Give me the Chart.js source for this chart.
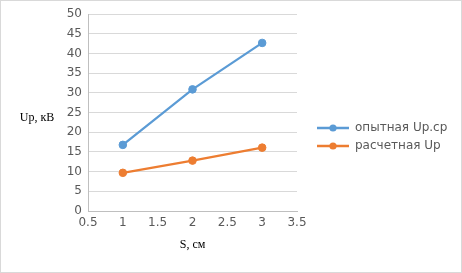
<!DOCTYPE html>
<html>
<head>
<meta charset="utf-8">
<script src="https://cdn.jsdelivr.net/npm/chart.js@4.4.1/dist/chart.umd.min.js"></script>
<style>
  html, body { margin: 0; padding: 0; background: #fff; }
  #wrap { width: 462px; height: 273px; box-sizing: border-box; border: 1px solid #d9d9d9; }
  #c { display: block; }
</style>
</head>
<body>
<div id="wrap"><canvas id="c" width="460" height="271"></canvas></div>
<script>
const sValues = [1, 2, 3];
const upMeasured = [16.8, 30.9, 42.7];
const upCalculated = [9.7, 12.8, 16.1];
const seriesNames = ["опытная Up.ср", "расчетная Up"];
const seriesColors = ["#5b9bd5", "#ed7d31"];
const xTitle = "S, см";
const yTitle = "Up, кВ";

const toPoints = ys => sValues.map((x, i) => ({ x: x, y: ys[i] }));

// legend marker: short line with a dot in the middle
const legendIcon = color => {
  const cv = document.createElement("canvas");
  cv.width = 32; cv.height = 10;
  const g = cv.getContext("2d");
  g.strokeStyle = color; g.lineWidth = 2.5;
  g.beginPath(); g.moveTo(0, 5); g.lineTo(32, 5); g.stroke();
  g.fillStyle = color;
  g.beginPath(); g.arc(16, 5, 3.6, 0, Math.PI * 2); g.fill();
  return cv;
};
const icons = seriesColors.map(legendIcon);

const yTitlePlugin = {
  id: "yTitle",
  afterInit(chart) {
    // legend would otherwise be capped at a quarter of the width
    const lg = chart.legend;
    const fit = lg.fit.bind(lg);
    lg.fit = function () { fit(); this.width = 145; };
  },
  afterDraw(chart) {
    const ctx = chart.ctx;
    ctx.save();
    ctx.font = "12px 'Liberation Serif'";
    ctx.fillStyle = "#000";
    ctx.textAlign = "center";
    ctx.textBaseline = "middle";
    ctx.fillText(yTitle, 36, 117);
    ctx.restore();
  }
};

const tickFont = { family: "DejaVu Sans", size: 12 };

new Chart(document.getElementById("c"), {
  type: "scatter",
  data: {
    datasets: [upMeasured, upCalculated].map((ys, i) => ({
      label: seriesNames[i],
      data: toPoints(ys),
      showLine: true,
      borderColor: seriesColors[i],
      backgroundColor: seriesColors[i],
      borderWidth: 2.25,
      pointRadius: 3.8,
      pointBorderWidth: 1,
      pointHoverRadius: 4,
      xAxisID: "x",
      yAxisID: "y"
    }))
  },
  options: {
    responsive: false,
    animation: false,
    layout: { padding: { top: 11, left: 0, right: 5, bottom: 10 } },
    plugins: {
      tooltip: { enabled: false },
      legend: {
        position: "right",
        labels: {
          usePointStyle: true,
          pointStyleWidth: 32,
          padding: 6,
          color: "#595959",
          font: { family: "DejaVu Sans", size: 12 },
          generateLabels(chart) {
            const items = Chart.defaults.plugins.legend.labels.generateLabels(chart);
            items.forEach((it, i) => { it.pointStyle = icons[i]; });
            return items;
          }
        }
      }
    },
    scales: {
      x: {
        type: "linear",
        min: 0.5, max: 3.5,
        ticks: { stepSize: 0.5, color: "#595959", font: tickFont, padding: 5, callback: v => String(v) },
        grid: { display: false, drawTicks: false },
        border: { display: true, color: "#bfbfbf" },
        title: {
          display: true, text: xTitle, color: "#000",
          font: { family: "Liberation Serif", size: 12 },
          padding: { top: 0, bottom: 10 }
        },
        afterFit: s => { s.height = 51; }
      },
      y: {
        type: "linear",
        min: 0, max: 50,
        ticks: { stepSize: 5, color: "#595959", font: tickFont, padding: 6 },
        grid: { color: "#d9d9d9", drawTicks: false },
        border: { display: true, color: "#bfbfbf" },
        afterFit: s => { s.width = 87; }
      },
      gap: {
        type: "linear",
        position: "right",
        grid: { display: false, drawTicks: false },
        border: { display: false },
        ticks: { display: false },
        afterFit: s => { s.width = 14; }
      }
    }
  },
  plugins: [yTitlePlugin]
});
</script>
</body>
</html>
